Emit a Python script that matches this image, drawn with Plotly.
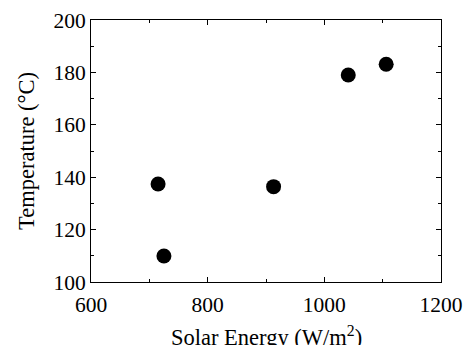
import plotly.graph_objects as go

solar_energy = [715, 725, 913, 1041, 1106]
temperature = [137.4, 109.9, 136.4, 179.0, 183.1]

fig = go.Figure(go.Scatter(
    x=solar_energy, y=temperature, mode="markers",
    marker=dict(size=15, color="black"),
))

tick_font = dict(family="Liberation Serif", size=21.5, color="black")
title_font = dict(family="Liberation Serif", size=22.5, color="black")
axis_common = dict(
    showline=True, linecolor="black", linewidth=1, mirror="allticks",
    ticks="inside", ticklen=5, tickwidth=1, tickcolor="black",
    showgrid=False, zeroline=False, tickfont=tick_font, automargin=False,
)
fig.update_layout(
    width=463, height=345,
    margin=dict(l=91, r=22, t=20, b=63),
    paper_bgcolor="white", plot_bgcolor="white",
    showlegend=False, font=tick_font,
    xaxis=dict(range=[600, 1200], tickvals=[600, 800, 1000, 1200],
               minor=dict(tickvals=[700, 900, 1100], ticklen=3, ticks="inside", tickcolor="black"),
               ticklabelstandoff=3,
               **axis_common),
    yaxis=dict(range=[100, 200], tickvals=[100, 120, 140, 160, 180, 200],
               minor=dict(tickvals=[110, 130, 150, 170, 190], ticklen=3, ticks="inside", tickcolor="black"),
               title=dict(text="Temperature (°C)", font=title_font, standoff=12),
               **axis_common),
    annotations=[dict(
        text="Solar Energy (W/m<sup>2</sup>)", font=title_font, showarrow=False,
        xref="paper", yref="paper", x=0.5, y=0, xanchor="center", yanchor="top",
        yshift=-38,
    )],
)
fig.write_html("out.html", post_script="document.body.style.margin='0';",
               config=dict(displayModeBar=False))
